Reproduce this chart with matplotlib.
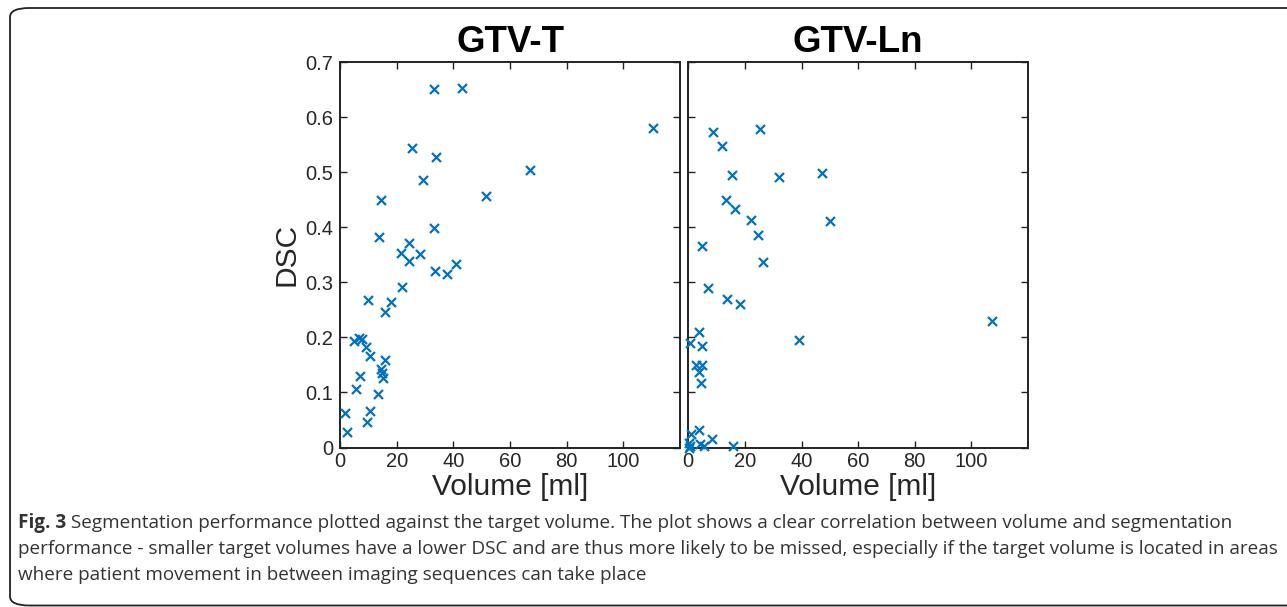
import numpy as np
import matplotlib.pyplot as plt
from matplotlib.patches import FancyBboxPatch

# GTV-T: volume [ml] and DSC
t_vol = [33.3, 43.1, 110.4, 25.3, 33.9, 67.1, 29.4, 14.4, 51.5, 33.2,
         13.9, 24.3, 21.4, 28.2, 24.4, 33.6, 40.9, 37.9, 22.0, 10.0,
         18.1, 15.9, 4.8, 6.7, 7.9, 9.0, 10.5, 16.0, 14.5, 14.7,
         15.1, 7.0, 5.8, 13.4, 1.9, 10.7, 9.6, 2.4]
t_dsc = [0.651, 0.652, 0.580, 0.543, 0.527, 0.503, 0.486, 0.449, 0.456, 0.399,
         0.382, 0.372, 0.354, 0.351, 0.339, 0.321, 0.333, 0.315, 0.291, 0.267,
         0.265, 0.246, 0.193, 0.198, 0.197, 0.183, 0.166, 0.158, 0.143, 0.136,
         0.127, 0.129, 0.106, 0.097, 0.063, 0.066, 0.047, 0.029]

# GTV-Ln: volume [ml] and DSC
ln_vol = [8.8, 25.3, 11.8, 15.3, 32.1, 47.1, 13.2, 16.6, 22.0, 50.0,
          24.7, 4.9, 26.5, 7.1, 13.6, 18.1, 107.3, 3.9, 0.5, 4.7,
          39.0, 2.7, 4.7, 3.8, 4.4, 1.1, 3.8, 8.3, 0.3, 0.6,
          0.1, 4.2, 5.7, 15.7]
ln_dsc = [0.573, 0.578, 0.547, 0.494, 0.491, 0.499, 0.449, 0.433, 0.414, 0.411,
          0.385, 0.366, 0.336, 0.289, 0.270, 0.260, 0.230, 0.209, 0.190, 0.184,
          0.195, 0.149, 0.149, 0.138, 0.118, 0.025, 0.031, 0.016, 0.008, 0.003,
          0.000, 0.007, 0.002, 0.002]

titles = ["GTV-T", "GTV-Ln"]
x_ticks = [0, 20, 40, 60, 80, 100]
y_ticks = [0, 0.1, 0.2, 0.3, 0.4, 0.5, 0.6, 0.7]
y_ticklabels = ["0", "0.1", "0.2", "0.3", "0.4", "0.5", "0.6", "0.7"]

caption_bold = "Fig. 3"
caption_lines = [
    " Segmentation performance plotted against the target volume. The plot shows a clear correlation between volume and segmentation",
    "performance - smaller target volumes have a lower DSC and are thus more likely to be missed, especially if the target volume is located in areas",
    "where patient movement in between imaging sequences can take place",
]

W, H = 1287, 607
fig = plt.figure(figsize=(W / 100, H / 100), dpi=100)


def px_rect(x0, y0, x1, y1):
    return [x0 / W, 1 - y1 / H, (x1 - x0) / W, (y1 - y0) / H]


# rounded frame around the figure panel
frame = FancyBboxPatch((10 / W, 1.5 / H), 1.2, 1 - 9.5 / H,
                       boxstyle="round,pad=0,rounding_size=0.015",
                       transform=fig.transFigure, fill=False,
                       edgecolor="#222222", linewidth=1.3, clip_on=False)
fig.patches.append(frame)

blue = "#0072BD"
grey = "#262626"
font = "Liberation Sans"
axes = [fig.add_axes(px_rect(340, 62, 680, 447.5)),
        fig.add_axes(px_rect(688.3, 62, 1028, 447.5))]

data = [(t_vol, t_dsc), (ln_vol, ln_dsc)]
for i, ax in enumerate(axes):
    vol, dsc = data[i]
    ax.scatter(vol, dsc, marker="x", s=42, color=blue, linewidths=1.6, clip_on=False, zorder=3)
    ax.set_xlim(0, 120)
    ax.set_ylim(0, 0.7)
    ax.set_xticks(x_ticks)
    ax.set_yticks(y_ticks)
    ax.tick_params(direction="in", top=True, right=True, length=5, width=1.0,
                   colors="#222222", labelcolor=grey, labelsize=14.5)
    ax.tick_params(axis="y", pad=5)
    ax.tick_params(axis="x", pad=3)
    for s in ax.spines.values():
        s.set_linewidth(1.4)
        s.set_color("#222222")
    ax.set_xticklabels([str(v) for v in x_ticks], family=font)
    ax.set_title(titles[i], fontsize=26.5, fontweight="bold", family=font, pad=7)
    ax.set_xlabel("Volume [ml]", fontsize=21.5, family=font, color=grey, labelpad=2)
    if i == 0:
        ax.set_yticklabels(y_ticklabels, family=font)
        ax.set_ylabel("DSC", fontsize=21.5, family=font, color=grey, labelpad=3)
    else:
        ax.set_yticklabels([])

# caption
cap_size = 13.6
bl = [528, 554, 580]
fig.canvas.draw()
r = fig.canvas.get_renderer()
t0 = fig.text(18 / W, 1 - bl[0] / H, caption_bold, fontsize=cap_size, fontweight="bold",
              family="Open Sans", color="#333333", va="baseline")
bb = t0.get_window_extent(renderer=r)
fig.text(bb.x1 / W, 1 - bl[0] / H, caption_lines[0], fontsize=cap_size,
         family="Open Sans", color="#333333", va="baseline")
for k in (1, 2):
    fig.text(18 / W, 1 - bl[k] / H, caption_lines[k], fontsize=cap_size,
             family="Open Sans", color="#333333", va="baseline")

fig.savefig("out.png", dpi=100)
